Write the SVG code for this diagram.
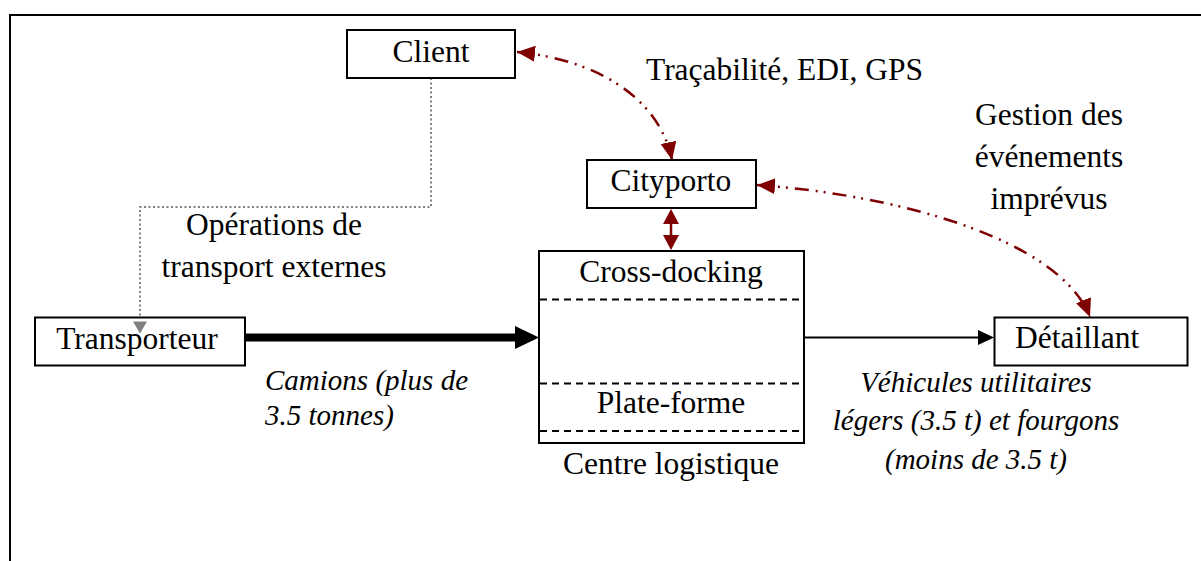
<svg xmlns="http://www.w3.org/2000/svg" width="1201" height="561" viewBox="0 0 1201 561">
<defs>
<style>
.t{font-family:'Liberation Serif',serif;font-size:31.5px;fill:#000}
.i{font-family:'Liberation Serif',serif;font-size:29px;font-style:italic;fill:#000}
.box{fill:#fff;stroke:#000;stroke-width:2}
.red{fill:none;stroke:#7f0000;stroke-width:2.5;stroke-dasharray:14 7 2 6 2 7}
.dash{stroke:#000;stroke-width:1.8;stroke-dasharray:7 5}
</style>
<marker id="rh" markerUnits="userSpaceOnUse" markerWidth="22" markerHeight="18" refX="18" refY="8" orient="auto-start-reverse">
<path d="M0,0 L18,8 L0,16 z" fill="#7f0000"/>
</marker>
</defs>
<rect x="10" y="15" width="1200" height="600" fill="#fff" stroke="#000" stroke-width="2"/>
<g id="connectors">
<path class="red" d="M517,52 C600,60 660,100 672,160" marker-start="url(#rh)" marker-end="url(#rh)"/>
<path class="red" d="M757,185 C900,195 1060,240 1090,317" marker-start="url(#rh)" marker-end="url(#rh)"/>
<line x1="671" y1="221" x2="671" y2="238" stroke="#7f0000" stroke-width="2.5"/>
<polygon points="671,209 663,224 679,224" fill="#7f0000"/>
<polygon points="671,250 663,235 679,235" fill="#7f0000"/>
<polyline points="431,78 431,207 140,207 140,322" fill="none" stroke="#808080" stroke-width="2" stroke-dasharray="2 2.5"/>
<line x1="245" y1="337.5" x2="517" y2="337.5" stroke="#000" stroke-width="8"/>
<polygon points="515,326 539,337.5 515,349" fill="#000"/>
<line x1="804" y1="337.5" x2="980" y2="337.5" stroke="#000" stroke-width="2"/>
<polygon points="978,330 994,337.5 978,345" fill="#000"/>
</g>
<g id="client">
<rect class="box" x="347" y="30" width="168" height="48"/>
<text class="t" x="431" y="62" text-anchor="middle">Client</text>
</g>
<g id="cityporto">
<rect class="box" x="587" y="160" width="169" height="48"/>
<text class="t" x="671" y="191" text-anchor="middle">Cityporto</text>
</g>
<g id="centre">
<rect class="box" x="539" y="251" width="265" height="192"/>
<line class="dash" x1="540" y1="299.5" x2="803" y2="299.5"/>
<line class="dash" x1="540" y1="383.5" x2="803" y2="383.5"/>
<line class="dash" x1="540" y1="431" x2="803" y2="431"/>
<text class="t" x="671" y="282" text-anchor="middle">Cross-docking</text>
<text class="t" x="671" y="413" text-anchor="middle">Plate-forme</text>
<text class="t" x="671" y="474" text-anchor="middle">Centre logistique</text>
</g>
<g id="transporteur">
<rect class="box" x="35" y="317.5" width="210" height="48"/>
<text class="t" x="137" y="348.5" text-anchor="middle">Transporteur</text>
</g>
<polygon points="133,321.5 147,321.5 140,333.5" fill="#808080"/>
<g id="detaillant">
<rect class="box" x="994.5" y="317.5" width="193" height="48"/>
<text class="t" x="1015" y="347.5">Détaillant</text>
</g>
<g id="labels">
<text class="t" x="646" y="80">Traçabilité, EDI, GPS</text>
<text class="t" x="1049" y="125" text-anchor="middle">Gestion des</text>
<text class="t" x="1049" y="167" text-anchor="middle">événements</text>
<text class="t" x="1049" y="209" text-anchor="middle">imprévus</text>
<text class="t" x="274" y="235" text-anchor="middle">Opérations de</text>
<text class="t" x="274" y="277" text-anchor="middle">transport externes</text>
<text class="i" x="265" y="390">Camions (plus de</text>
<text class="i" x="265" y="425">3.5 tonnes)</text>
<text class="i" x="976" y="392" text-anchor="middle">Véhicules utilitaires</text>
<text class="i" x="976" y="430" text-anchor="middle">légers (3.5 t) et fourgons</text>
<text class="i" x="976" y="469" text-anchor="middle">(moins de 3.5 t)</text>
</g>
</svg>
